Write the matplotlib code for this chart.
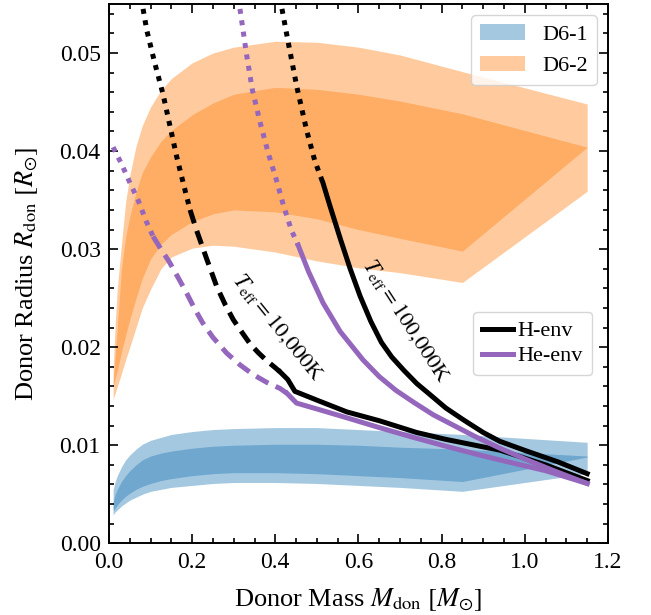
import numpy as np
import matplotlib
matplotlib.use("Agg")
import matplotlib.pyplot as plt

plt.rcParams["font.family"] = ["Liberation Serif", "DejaVu Serif"]
plt.rcParams["mathtext.fontset"] = "stix"

# D6 radius bands (mass grid, outer / inner bounds)
m_band = [0.01, 0.015, 0.02, 0.03, 0.04, 0.05, 0.065, 0.08, 0.1, 0.125, 0.15, 0.2, 0.25, 0.3,
          0.4, 0.5, 0.6, 0.7, 0.85, 1.15]
d62_outer_top = [0.0175, 0.0225, 0.0260, 0.0305, 0.0348, 0.0375, 0.0405, 0.0426, 0.0445, 0.0462, 0.0474,
                 0.0490, 0.0500, 0.0506, 0.0512, 0.0511, 0.0506, 0.0498, 0.0481, 0.0448]
d62_inner_top = [0.0163, 0.0192, 0.0220, 0.0280, 0.0312, 0.0333, 0.0358, 0.0378, 0.0394, 0.0410, 0.0421,
                 0.0437, 0.0449, 0.0458, 0.0465, 0.0463, 0.0458, 0.0451, 0.0438, 0.0404]
d62_inner_bot = [0.0160, 0.0168, 0.0176, 0.0195, 0.0212, 0.0228, 0.0250, 0.0270, 0.0290, 0.0305, 0.0315,
                 0.0328, 0.0336, 0.0340, 0.0338, 0.0331, 0.0320, 0.0311, 0.0298, 0.0404]
d62_outer_bot = [0.0147, 0.0153, 0.0160, 0.0173, 0.0187, 0.0200, 0.0220, 0.0240, 0.0259, 0.0280, 0.0292,
                 0.0301, 0.0304, 0.0303, 0.0297, 0.0288, 0.0281, 0.0276, 0.0266, 0.0359]

d61_outer_top = [0.0055, 0.0063, 0.0069, 0.0078, 0.0085, 0.0090, 0.0096, 0.0101, 0.0105, 0.0108, 0.0111,
                 0.0114, 0.0116, 0.0117, 0.0118, 0.0118, 0.0116, 0.0114, 0.0111, 0.0103]
d61_inner_top = [0.0042, 0.0050, 0.0055, 0.0063, 0.0069, 0.0074, 0.0080, 0.0085, 0.0089, 0.0092, 0.0094,
                 0.0097, 0.0099, 0.0100, 0.0101, 0.0101, 0.0100, 0.0098, 0.0096, 0.0089]
d61_inner_bot = [0.0033, 0.0036, 0.0039, 0.0044, 0.0048, 0.0051, 0.0055, 0.0058, 0.0061, 0.0064, 0.0066,
                 0.0069, 0.0071, 0.0072, 0.0072, 0.0071, 0.0069, 0.0067, 0.0063, 0.0088]
d61_outer_bot = [0.0029, 0.0032, 0.0034, 0.0038, 0.0041, 0.0044, 0.0047, 0.0050, 0.0053, 0.0055, 0.0057,
                 0.0059, 0.0061, 0.0062, 0.0062, 0.0061, 0.0059, 0.0057, 0.0053, 0.0071]

# donor tracks: H-env / He-env, Teff = 10,000 K and 100,000 K
m_h10 = [0.082, 0.091, 0.11, 0.130, 0.147, 0.163, 0.18, 0.195, 0.21, 0.235, 0.259, 0.28, 0.299, 0.32,
         0.34, 0.36, 0.38, 0.40, 0.411, 0.43, 0.447, 0.50, 0.572, 0.65, 0.74, 0.81, 0.892, 0.94,
         1.05, 1.15]
r_h10 = [0.0545, 0.0523, 0.0490, 0.0458, 0.0425, 0.0394, 0.0365, 0.0340, 0.0320, 0.0290, 0.0262,
         0.0243, 0.0228, 0.0215, 0.0203, 0.0194, 0.0186, 0.0179, 0.0175, 0.0167, 0.0155, 0.0146,
         0.0134, 0.0125, 0.0113, 0.0106, 0.0099, 0.0095, 0.0080, 0.0064]
m_he10 = [0.01, 0.03, 0.05, 0.07, 0.09, 0.106, 0.125, 0.145, 0.165, 0.187, 0.205, 0.225, 0.25, 0.283,
          0.315, 0.347, 0.38, 0.411, 0.428, 0.451, 0.50, 0.572, 0.65, 0.732, 0.81, 0.892, 0.94,
          1.05, 1.15]
r_he10 = [0.0404, 0.0387, 0.0368, 0.0350, 0.0328, 0.0313, 0.0300, 0.0287, 0.0272, 0.0255, 0.0240,
          0.0225, 0.0210, 0.0194, 0.0182, 0.0172, 0.0164, 0.0158, 0.0153, 0.0143, 0.0137, 0.0128,
          0.0118, 0.0108, 0.0099, 0.0090, 0.0085, 0.0074, 0.0061]
m_h100 = [0.416, 0.431, 0.452, 0.476, 0.495, 0.515, 0.53, 0.556, 0.58, 0.604, 0.63, 0.655, 0.68,
          0.71, 0.74, 0.771, 0.81, 0.852, 0.90, 0.94, 1.005, 1.08, 1.15]
r_h100 = [0.0545, 0.0511, 0.0465, 0.0420, 0.0390, 0.0367, 0.0346, 0.0311, 0.0280, 0.0252, 0.0226,
          0.0205, 0.0190, 0.0176, 0.0163, 0.0152, 0.0138, 0.0126, 0.0113, 0.0104, 0.0094, 0.0083,
          0.0071]
m_he100 = [0.315, 0.331, 0.345, 0.363, 0.383, 0.403, 0.42, 0.439, 0.455, 0.48, 0.515, 0.556, 0.611,
           0.65, 0.69, 0.732, 0.78, 0.83, 0.88, 0.94, 1.0, 1.07, 1.15]
r_he100 = [0.0545, 0.0498, 0.0462, 0.0430, 0.0398, 0.0370, 0.0344, 0.0319, 0.0304, 0.0277, 0.0245,
           0.0216, 0.0187, 0.0170, 0.0156, 0.0144, 0.0131, 0.0120, 0.0109, 0.0097, 0.0086, 0.0074,
           0.0061]

# mass where dotted part ends, where dashed part ends
breaks_h10 = (0.195, 0.411)
breaks_he10 = (0.106, 0.428)
breaks_h100 = (0.515, 0.515)
breaks_he100 = (0.455, 0.455)

purple = "#9467bd"
lw = 3.6


def plot_track(ax, m, r, breaks, color):
    m = np.array(m)
    r = np.array(r)
    b1, b2 = breaks
    dot = m <= b1
    dash = (m >= b1) & (m <= b2)
    solid = m >= b2
    ax.plot(m[dot], r[dot], color=color, lw=lw, ls=(0, (1, 1.3)))
    if dash.sum() > 1:
        ax.plot(m[dash], r[dash], color=color, lw=lw, ls=(0, (2.8, 1.6)))
    ax.plot(m[solid], r[solid], color=color, lw=lw, solid_joinstyle="round")


fig = plt.figure(figsize=(6.51, 6.15), dpi=100)
ax = fig.add_axes([0.1674, 0.1166, 0.7665, 0.8769])

f1 = ax.fill_between(m_band, d61_outer_bot, d61_outer_top, color="C0", alpha=0.4, lw=0, label="D6-1")
ax.fill_between(m_band, d61_inner_bot, d61_inner_top, color="C0", alpha=0.4, lw=0)
f2 = ax.fill_between(m_band, d62_outer_bot, d62_outer_top, color="C1", alpha=0.4, lw=0, label="D6-2")
ax.fill_between(m_band, d62_inner_bot, d62_inner_top, color="C1", alpha=0.4, lw=0)

plot_track(ax, m_h10, r_h10, breaks_h10, "k")
plot_track(ax, m_he10, r_he10, breaks_he10, purple)
plot_track(ax, m_h100, r_h100, breaks_h100, "k")
plot_track(ax, m_he100, r_he100, breaks_he100, purple)

ax.text(0.406, 0.0220, r"$T_{\rm eff} = 10{,}000$K", rotation=-51, ha="center", va="center",
        rotation_mode="anchor", fontsize=16)
ax.text(0.714, 0.0227, r"$T_{\rm eff} = 100{,}000$K", rotation=-57, ha="center", va="center",
        rotation_mode="anchor", fontsize=16)

ax.set_xlim(0, 1.2)
ax.set_ylim(0, 0.055)
ax.set_xticks(np.arange(0, 1.21, 0.2))
ax.set_xticks(np.arange(0, 1.21, 0.05), minor=True)
ax.set_yticks(np.arange(0, 0.051, 0.01))
ax.set_yticks(np.arange(0, 0.055, 0.002), minor=True)
ax.xaxis.set_major_formatter(matplotlib.ticker.FormatStrFormatter("%.1f"))
ax.yaxis.set_major_formatter(matplotlib.ticker.FormatStrFormatter("%.2f"))
ax.tick_params(which="both", direction="in", top=True, right=True, labelsize=17, width=1.2)
ax.tick_params(which="major", length=6.5, pad=6)
ax.tick_params(which="minor", length=3.5)
for s in ax.spines.values():
    s.set_linewidth(1.4)

ax.set_xlabel(r"Donor Mass $M_{\rm don}$ $[M_{\odot}]$", fontsize=19, labelpad=10)
ax.set_ylabel(r"Donor Radius $R_{\rm don}$ $[R_{\odot}]$", fontsize=19, labelpad=14)

leg1 = ax.legend(handles=[f1, f2], loc="upper right", fontsize=16)
ax.add_artist(leg1)
h1, = ax.plot([], [], color="k", lw=lw, label="H-env")
h2, = ax.plot([], [], color=purple, lw=lw, label="He-env")
ax.legend(handles=[h1, h2], loc="upper right", bbox_to_anchor=(0.968, 0.429), borderaxespad=0,
          fontsize=16, handlelength=1.4, handletextpad=0.2, labelspacing=0.2, borderpad=0.4)

fig.savefig("out.png", dpi=100)
